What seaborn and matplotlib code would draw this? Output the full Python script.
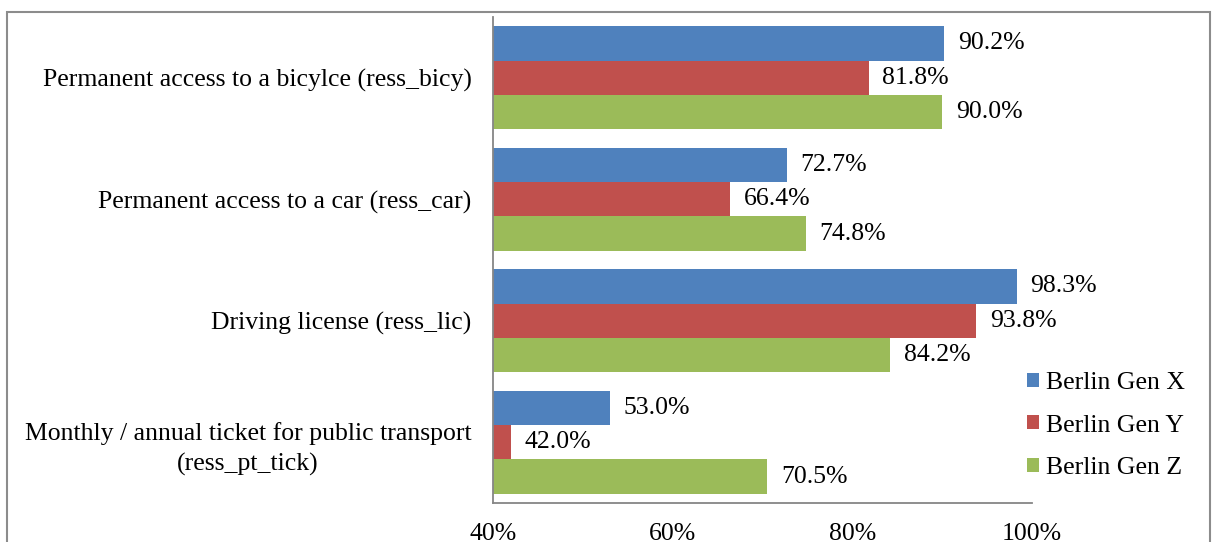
import matplotlib
matplotlib.use("Agg")
import matplotlib.pyplot as plt
from matplotlib.patches import Rectangle
from matplotlib.ticker import FixedLocator
import seaborn as sns
import pandas as pd

categories = [
    "Permanent access to a bicylce (ress_bicy)",
    "Permanent access to a car (ress_car)",
    "Driving license (ress_lic)",
    "Monthly / annual ticket for public transport\n(ress_pt_tick)",
]
groups = ["Berlin Gen X", "Berlin Gen Y", "Berlin Gen Z"]
gen_x = [90.2, 72.7, 98.3, 53.0]
gen_y = [81.8, 66.4, 93.8, 42.0]
gen_z = [90.0, 74.8, 84.2, 70.5]
x_ticks = [40, 60, 80, 100]

colors = ["#4F81BD", "#C0504D", "#9BBB59"]
FS = 18.5

rows = []
for g, vals in zip(groups, [gen_x, gen_y, gen_z]):
    for c, v in zip(categories, vals):
        rows.append({"item": c, "group": g, "share": v})
df = pd.DataFrame(rows)

sns.set_style("white")
plt.rcParams["font.family"] = ["Liberation Serif", "DejaVu Serif"]
plt.rcParams["text.color"] = "black"
plt.rcParams["xtick.color"] = "black"
plt.rcParams["ytick.color"] = "black"

W, H = 1213, 542
fig = plt.figure(figsize=(W / 100, H / 100), dpi=100)
ax = fig.add_axes([493 / W, 1 - 503 / H, (1032 - 493) / W, (503 - 17) / H])

sns.barplot(data=df, y="item", x="share", hue="group", order=categories,
            hue_order=groups, palette=colors, width=0.85, orient="h",
            saturation=1, linewidth=0, ax=ax, legend=True)

ax.set_xlim(40, 100)
ax.set_ylim(len(categories) - 0.5, -0.5)
ax.set_xticks(x_ticks)
ax.set_xticklabels([f"{t}%" for t in x_ticks], fontsize=FS)
ax.set_xlabel("")
ax.set_ylabel("")

# value labels at bar ends
for cont in ax.containers:
    for bar in cont:
        w = bar.get_width()
        ax.annotate(f"{w:.1f}%", (w, bar.get_y() + bar.get_height() / 2),
                    xytext=(10, 0), textcoords="offset points",
                    ha="left", va="center", fontsize=FS, color="black")

# category labels, with ticks drawn at the group boundaries
ax.set_yticks(range(len(categories)))
ax.set_yticklabels(categories, fontsize=FS, multialignment="center", linespacing=1.45)
ax.yaxis.set_minor_locator(FixedLocator([i - 0.5 for i in range(len(categories) + 1)]))
ax.tick_params(axis="y", which="major", length=0, pad=15.5)
ax.tick_params(axis="y", which="minor", length=4.5, width=1.3, color="#868686", direction="out")
ax.tick_params(axis="x", which="major", length=5, width=1.3, color="#868686", direction="out", pad=9.5)

for side in ["top", "right"]:
    ax.spines[side].set_visible(False)
for side in ["left", "bottom"]:
    ax.spines[side].set_color("#868686")
    ax.spines[side].set_linewidth(1.3)

handles, labels = ax.get_legend_handles_labels()
ax.get_legend().remove()
fig.legend(handles, labels, loc="upper left", bbox_to_anchor=(1027 / W, 1 - 372 / H),
           frameon=False, fontsize=FS, handlelength=0.47, handleheight=0.47,
           handletextpad=0.25, labelspacing=0.8, borderaxespad=0, borderpad=0)

# chart-area frame
fig.patches.append(Rectangle((7 / W, -0.1), (1210 - 7) / W, 1.1 - 12 / H,
                             transform=fig.transFigure, fill=False,
                             edgecolor="#8c8c8c", linewidth=1.5))

fig.savefig("out.png", dpi=100)
